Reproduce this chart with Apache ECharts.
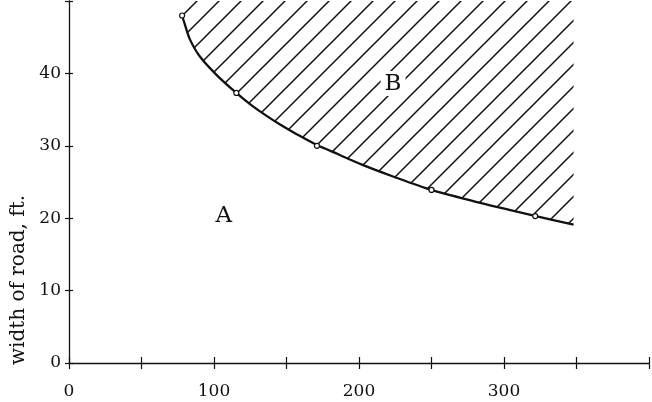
<!DOCTYPE html>
<html lang="en">

<head>
    <meta charset="UTF-8">
    <title>width of road</title>
    <script src="https://cdn.jsdelivr.net/npm/echarts@6/dist/echarts.min.js"></script>
    <style>
        * {
            margin: 0;
            padding: 0;
        }

        #main {
            width: 652px;
            height: 402px;
        }
    </style>
</head>

<body>
    <div id="main"></div>
    <script>
        // boundary curve between region A and region B (length, width ft.)
        var curveX = [78, 80, 83.4, 90, 101.7, 115.4, 124.6, 135, 145, 157, 171, 186, 202, 223, 250, 280, 303, 322, 348];
        var curveY = [48, 46.7, 44.7, 42.4, 39.8, 37.3, 35.8, 34.3, 33.0, 31.6, 30.1, 28.8, 27.4, 25.8, 23.9, 22.3, 21.2, 20.3, 19.1];
        // the measured points marked with small circles
        var pointX = [78, 115.4, 171, 250, 321.5];
        var pointY = [48, 37.3, 30, 23.9, 20.3];
        // region labels
        var regionNames = ['A', 'B'];
        var regionX = [106.7, 223.5];
        var regionY = [20.3, 38.6];

        var xTicks = [0, 400, 50];   // min, max, interval
        var yTicks = [0, 50, 10];

        var ink = '#111';
        var font = '"DejaVu Serif", "Liberation Serif", serif';

        // hatching tile, 45 degree lines
        function hatch(size) {
            var c = document.createElement('canvas');
            c.width = size;
            c.height = size;
            var ctx = c.getContext('2d');
            ctx.strokeStyle = ink;
            ctx.lineWidth = 1.5;
            ctx.beginPath();
            ctx.moveTo(-2, size + 2);
            ctx.lineTo(size + 2, -2);
            ctx.moveTo(-2, 2);
            ctx.lineTo(2, -2);
            ctx.moveTo(size - 2, size + 2);
            ctx.lineTo(size + 2, size - 2);
            ctx.stroke();
            return c;
        }

        function zip(a, b) {
            return a.map(function (v, i) { return [v, b[i]]; });
        }

        var chartDom = document.getElementById('main');
        var myChart = echarts.init(chartDom);

        var xBase = {
            type: 'value',
            min: xTicks[0], max: xTicks[1], interval: xTicks[2],
            splitLine: { show: false }
        };
        var yBase = {
            type: 'value',
            min: yTicks[0], max: yTicks[1], interval: yTicks[2],
            splitLine: { show: false }
        };

        var option = {
            backgroundColor: '#fff',
            animation: false,
            grid: { left: 69, right: 1, top: 1, bottom: 39 },
            xAxis: [
                Object.assign({}, xBase, {
                    axisLine: { lineStyle: { color: ink, width: 1.3 } },
                    axisTick: { length: 6, lineStyle: { color: ink, width: 1.2 } },
                    axisLabel: {
                        margin: 20,
                        color: ink, fontFamily: font, fontSize: 17,
                        formatter: function (v) { return (v % 100 === 0 && v < 400) ? v : ''; }
                    }
                }),
                Object.assign({}, xBase, {
                    position: 'bottom',
                    axisLine: { show: false },
                    axisTick: { inside: true, length: 6, lineStyle: { color: ink, width: 1.2 } },
                    axisLabel: { show: false }
                })
            ],
            yAxis: [
                Object.assign({}, yBase, {
                    name: 'width of road, ft.',
                    nameLocation: 'middle',
                    nameRotate: 90,
                    nameGap: 40,
                    nameTextStyle: { color: ink, fontFamily: font, fontSize: 20, padding: [0, 196, 0, 0] },
                    axisLine: { lineStyle: { color: ink, width: 1.3 } },
                    axisTick: { length: 4, lineStyle: { color: ink, width: 1.2 } },
                    axisLabel: {
                        margin: 8,
                        color: ink, fontFamily: font, fontSize: 17,
                        formatter: function (v) { return v < 50 ? v : ''; }
                    }
                }),
                Object.assign({}, yBase, {
                    position: 'left',
                    axisLine: { show: false },
                    axisTick: { inside: true, length: 4, lineStyle: { color: ink, width: 1.2 } },
                    axisLabel: { show: false }
                })
            ],
            series: [
                {
                    type: 'line',
                    smooth: 0.3,
                    showSymbol: false,
                    data: zip(curveX, curveY),
                    lineStyle: { color: ink, width: 2.3 },
                    areaStyle: {
                        origin: 'end',
                        opacity: 1,
                        color: { image: hatch(22), repeat: 'repeat' }
                    },
                    z: 2
                },
                {
                    type: 'scatter',
                    symbol: 'circle',
                    symbolSize: 5,
                    data: zip(pointX, pointY),
                    itemStyle: { color: '#fff', borderColor: ink, borderWidth: 1.2, opacity: 1 },
                    z: 4
                },
                {
                    type: 'scatter',
                    symbolSize: 0,
                    data: regionNames.map(function (n, i) {
                        return { name: n, value: [regionX[i], regionY[i]] };
                    }),
                    itemStyle: { opacity: 1 },
                    label: {
                        show: true,
                        position: 'inside',
                        formatter: '{b}',
                        color: ink,
                        fontFamily: font,
                        fontSize: 23,
                        opacity: 1,
                        backgroundColor: '#fff',
                        padding: [1, 4]
                    },
                    z: 5
                }
            ]
        };
        myChart.setOption(option);
    </script>
</body>

</html>
